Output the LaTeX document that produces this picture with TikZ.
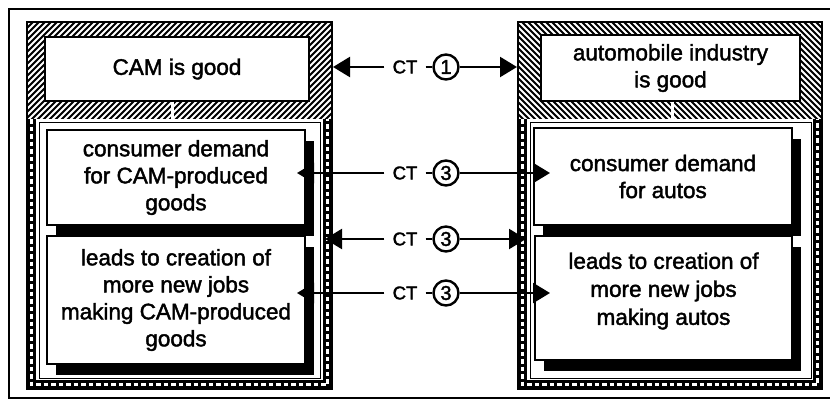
\documentclass[tikz,border=0pt]{standalone}
\usepackage{fontspec}
\setmainfont[FakeBold=1.8]{Liberation Sans}
\usetikzlibrary{arrows.meta,shadows}

\begin{document}
\begin{tikzpicture}[x=1pt,y=-1pt,
  frame/.style={line width=2pt},
  colborder/.style={line width=2.8pt},
  hatchline/.style={white,line width=1.8pt},
  ladder/.style={line width=9pt},
  ladderdash/.style={white,line width=2.4pt,dash pattern=on 4.5pt off 3pt},
  innerline/.style={line width=0.8pt},
  topbox/.style={draw,line width=1.8pt,fill=white,inner sep=0pt,align=center,
    font=\fontsize{22.5}{27}\selectfont},
  shbox/.style={topbox,drop shadow={shadow xshift=9pt,shadow yshift=-11pt,opacity=1,fill=black}},
  boxtext/.style={inner sep=0pt,align=center,font=\fontsize{22.5}{28}\selectfont},
  ctlabel/.style={inner xsep=8pt,inner ysep=0pt,font=\fontsize{18.5}{18}\selectfont},
  numcirc/.style={circle,draw,line width=2.4pt,minimum size=25pt,inner sep=0pt,
    font=\fontsize{20}{20}\selectfont},
  conn/.style={line width=2.3pt,-{Triangle[length=17pt,width=20pt]}},
  link/.style={white,line width=3pt},
]
\useasboundingbox (0,0) rectangle (830,405);
\draw[frame] (9,9) rectangle (845,398);

% ---------- left column ----------
\fill[black] (27,22) rectangle (332,119);
\begin{scope}
  \clip (27,22) rectangle (332,119);
  \foreach \i in {-90,-84,...,335} \draw[hatchline] (\i,124) -- ++(108,-108);
\end{scope}
\draw[ladder] (31.5,119) -- (31.5,384.5) -- (327.5,384.5) -- (327.5,119);
\draw[ladderdash] (31.5,119) -- (31.5,384.5) -- (327.5,384.5) -- (327.5,119);
\fill[white] (36,119) rectangle (323,380);
\draw[innerline] (39,122) rectangle (320,378);
\draw[colborder] (27,22) rectangle (332,389);
\node[topbox,minimum width=264pt,minimum height=64pt] (camgood) at (177,69) {CAM is good};
\draw[link] (172,101.5) -- (172,118.5);

\node[shbox,minimum width=258pt,minimum height=95pt] (ldemand) at (176,177.5)
  {consumer demand\\for CAM-produced\\goods};
\node[shbox,minimum width=258pt,minimum height=128pt] (ljobs) at (176,300)
  {leads to creation of\\more new jobs\\making CAM-produced\\goods};

% ---------- right column ----------
\fill[black] (518,22) rectangle (822,119);
\begin{scope}
  \clip (518,22) rectangle (822,119);
  \foreach \i in {405,411,...,830} \draw[hatchline] (\i,16) -- ++(108,108);
\end{scope}
\draw[ladder] (522.5,119) -- (522.5,384.5) -- (817.5,384.5) -- (817.5,119);
\draw[ladderdash] (522.5,119) -- (522.5,384.5) -- (817.5,384.5) -- (817.5,119);
\fill[white] (527,119) rectangle (813,380);
\draw[innerline] (530,122) rectangle (811,378);
\draw[colborder] (518,22) rectangle (822,389);
\node[topbox,minimum width=259pt,minimum height=66pt] (autogood) at (670.5,68)
  {automobile industry\\is good};
\draw[link] (672,101.5) -- (672,118.5);

\node[shbox,minimum width=258pt,minimum height=97pt] (rdemand) at (663,176.5)
  {consumer demand\\for autos};
\node[shbox,minimum width=257pt,minimum height=124pt] (rjobs) at (663.5,298) {};
\node[boxtext] (rjobstext) at (663.5,291) {leads to creation of\\more new jobs\\making autos};

% ---------- connectors ----------
\coordinate (l0) at (333,67);   \coordinate (r0) at (517,67);
\coordinate (l1) at (297,173);  \coordinate (r1) at (550,173);
\coordinate (l2) at (325,239);  \coordinate (r2) at (526,239);
\coordinate (l3) at (297,293);  \coordinate (r3) at (550,293);

\foreach \row/\y/\n in {0/67/1,1/173/3,2/239/3,3/293/3}{
  \node[ctlabel] (ct\row) at (405,\y) {CT};
  \node[numcirc] (num\row) at (446,\y) {\n};
  \draw[conn] (ct\row.west) -- (l\row);
  \draw[line width=2.3pt] (ct\row.east) -- (num\row.west);
  \draw[conn] (num\row.east) -- (r\row);
}
\end{tikzpicture}
\end{document}
